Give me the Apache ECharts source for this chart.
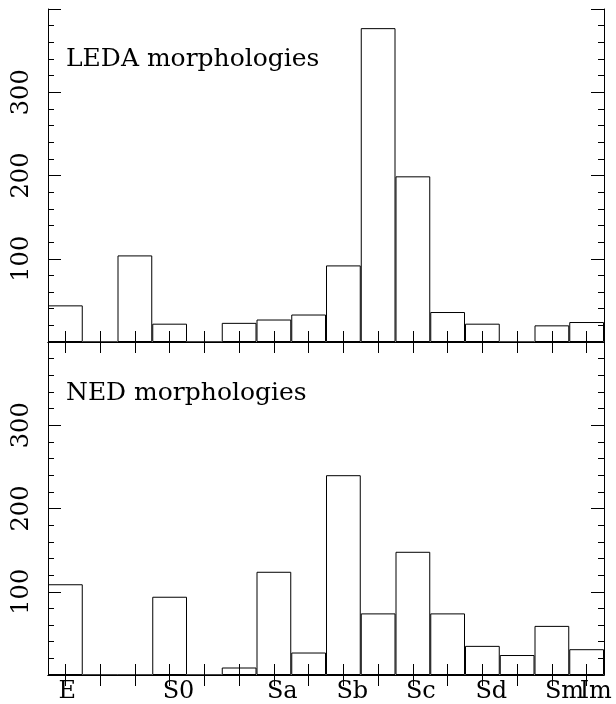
<!DOCTYPE html>
<html>
<head>
<meta charset="utf-8">
<script src="https://cdn.jsdelivr.net/npm/echarts@6/dist/echarts.min.js"></script>
<style>
  html, body { margin: 0; padding: 0; background: #fff; }
  #chart { width: 616px; height: 704px; }
</style>
</head>
<body>
<div id="chart"></div>
<script>
// Morphological T-type bins (-5 .. 10) and the names shown under them
const tTypes = [-5, -4, -3, -2, -1, 0, 1, 2, 3, 4, 5, 6, 7, 8, 9, 10];
const typeNames = ['E', '', '', 'S0', '', '', 'Sa', '', 'Sb', '', 'Sc', '', 'Sd', '', 'Sm', 'Im'];

// Galaxy counts per bin
const ledaCounts = [44, 0, 104, 22, 0, 23, 27, 33, 92, 377, 199, 36, 22, 0, 20, 24];
const nedCounts  = [109, 0, 0, 94, 0, 9, 124, 27, 240, 74, 148, 74, 35, 24, 59, 31];

// Count axis range and labelled ticks
const countMax = 400;
const countStep = 100;
const countLabels = [100, 200, 300];

const panelTitles = ['LEDA morphologies', 'NED morphologies'];

const FONT = 'DejaVu Serif';
const INK = '#000';

function countAxes(gridIndex) {
  const common = {
    type: 'value', gridIndex, min: 0, max: countMax, interval: countStep,
    axisLine: { show: true, lineStyle: { color: INK, width: 1 } },
    axisTick: { show: true, inside: true, length: 13, lineStyle: { color: INK, width: 1 } },
    minorTick: { show: true, splitNumber: 5, length: 6, lineStyle: { color: INK, width: 1 } },
    splitLine: { show: false }
  };
  return [
    Object.assign({}, common, {
      position: 'left',
      axisLabel: {
        show: true, rotate: 90, margin: 14, color: INK,
        fontFamily: FONT, fontSize: 24,
        formatter: v => countLabels.indexOf(v) >= 0 ? String(v) : ''
      }
    }),
    Object.assign({}, common, { position: 'right', axisLabel: { show: false } })
  ];
}

function typeAxes(gridIndex, withLabels) {
  const common = {
    type: 'category', gridIndex, data: tTypes, boundaryGap: true,
    axisLine: { show: true, lineStyle: { color: INK, width: 1 } },
    axisTick: { show: true, inside: true, length: 11, alignWithLabel: true, interval: 0,
                lineStyle: { color: INK, width: 1 } },
    splitLine: { show: false }
  };
  return [
    Object.assign({}, common, {
      position: 'bottom',
      axisLabel: withLabels ? {
        show: true, interval: 0, margin: 5, color: INK,
        fontFamily: FONT, fontSize: 24, align: 'left', padding: [0, 0, 0, -7],
        formatter: (v, i) => typeNames[i]
      } : { show: false }
    }),
    Object.assign({}, common, { position: 'top', axisLabel: { show: false } })
  ];
}

function histogram(name, counts, axisOffset) {
  return {
    type: 'bar', name, data: counts,
    xAxisIndex: axisOffset, yAxisIndex: axisOffset,
    barCategoryGap: '0%', barGap: '0%',
    itemStyle: { color: 'rgba(0,0,0,0)', borderColor: INK, borderWidth: 1 },
    emphasis: { disabled: true },
    silent: true
  };
}

const chart = echarts.init(document.getElementById('chart'), null, { renderer: 'canvas' });
chart.setOption({
  animation: false,
  backgroundColor: '#fff',
  title: panelTitles.map((t, i) => ({
    text: t, left: 66, top: i === 0 ? 47 : 381, padding: 0,
    textStyle: { fontFamily: FONT, fontSize: 25, fontWeight: 'normal', color: INK }
  })),
  grid: [
    { left: 48, right: 12, top: 9, height: 333 },
    { left: 48, right: 12, top: 342, height: 334 }
  ],
  xAxis: [...typeAxes(0, false), ...typeAxes(1, true)],
  yAxis: [...countAxes(0), ...countAxes(1)],
  series: [
    histogram('LEDA', ledaCounts, 0),
    histogram('NED', nedCounts, 2)
  ]
});
</script>
</body>
</html>
